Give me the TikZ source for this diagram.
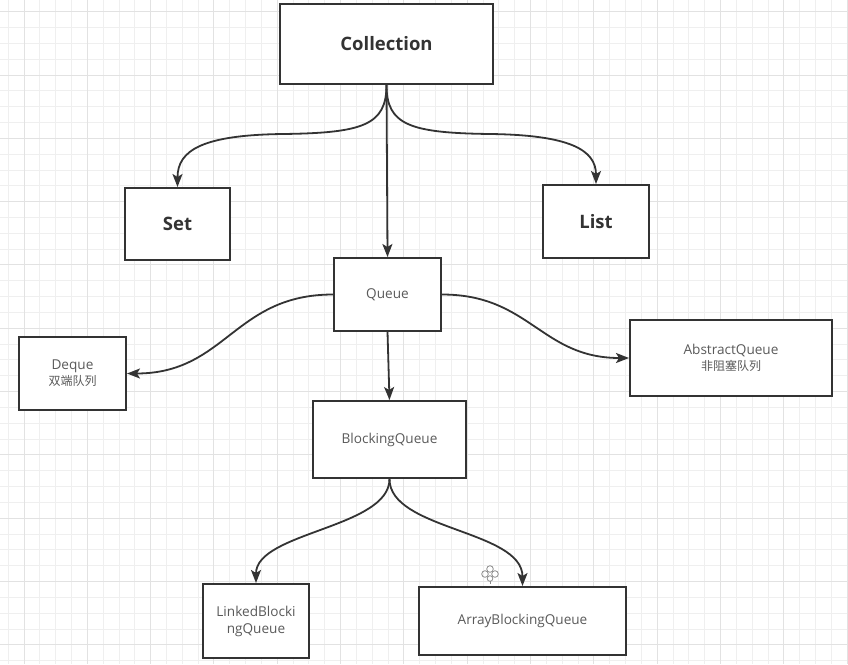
\documentclass[tikz,border=0pt]{standalone}
\usepackage{fontspec}
\setmainfont{Open Sans}
\newfontfamily\cjk{Noto Sans CJK SC}
\usetikzlibrary{arrows.meta}
\definecolor{ink}{HTML}{333333}
\definecolor{txt}{HTML}{5A5A5A}
\definecolor{gridminor}{HTML}{EFEFEF}
\definecolor{gridmajor}{HTML}{E2E2E2}
\definecolor{marker}{HTML}{8C8C8C}
\begin{document}
\begin{tikzpicture}[x=1pt,y=-1pt,
  box/.style={draw=ink, line width=2pt, fill=white, inner sep=0pt, align=center,
    text=txt, font=\fontsize{13.6}{17}\selectfont},
  titlebox/.style={box, text=ink, font=\fontsize{18.5}{22}\selectfont\bfseries},
  arr/.style={draw=ink, line width=1.8pt,
    -{Stealth[length=13pt,width=10pt,inset=3pt]}},
  minorline/.style={draw=gridminor, line width=1pt},
  majorline/.style={draw=gridmajor, line width=1pt}]
\useasboundingbox (0,0) rectangle (848,664);
\fill[white] (0,0) rectangle (848,664);

% background grid
\foreach \i in {0,...,53} {
  \pgfmathsetmacro\gx{8.2+15.83*\i}
  \draw[minorline] (\gx,0) -- (\gx,664);
}
\foreach \j in {0,...,41} {
  \pgfmathsetmacro\gy{11.7+15.83*\j}
  \draw[minorline] (0,\gy) -- (848,\gy);
}
\foreach \i in {0,...,13} {
  \pgfmathsetmacro\gx{24+63.32*\i}
  \draw[majorline] (\gx,0) -- (\gx,664);
}
\foreach \j in {0,...,10} {
  \pgfmathsetmacro\gy{11.7+63.32*\j}
  \draw[majorline] (0,\gy) -- (848,\gy);
}

% class and interface boxes
\node[titlebox, minimum width=213pt, minimum height=80pt] (coll) at (386.5,44) {Collection};
\node[titlebox, minimum width=105pt, minimum height=72pt] (set) at (177.5,224) {Set};
\node[titlebox, minimum width=106pt, minimum height=73pt] (list) at (596,221.5) {List};
\node[box, minimum width=107pt, minimum height=73pt] (queue) at (387.5,294.5) {Queue};
\node[box, minimum width=107pt, minimum height=73pt] (deque) at (72.5,373.5)
  {Deque\\[-1pt]{\cjk\fontsize{12}{17}\selectfont 双端队列}};
\node[box, minimum width=202pt, minimum height=76pt] (abst) at (731,358)
  {AbstractQueue\\[-1pt]{\cjk\fontsize{12}{17}\selectfont 非阻塞队列}};
\node[box, minimum width=153pt, minimum height=77pt] (bq) at (389.5,439.5) {BlockingQueue};
\node[box, minimum width=106pt, minimum height=74pt] (lbq) at (256,621)
  {LinkedBlocki\\ngQueue};
\node[box, minimum width=207pt, minimum height=68pt] (abq) at (522.5,621) {ArrayBlockingQueue};

% inheritance connectors
\draw[arr] (coll.south) .. controls (386.5,125) and (363,133) .. (283,134)
  .. controls (203,135) and (177.5,150) .. (set.north);
\draw[arr] (coll.south) .. controls (386.5,125) and (410,133) .. (490,134)
  .. controls (570,135) and (596,150) .. (list.north);
\draw[arr] (coll.south) -- (queue.north);
\draw[arr] (queue.west) .. controls (234,294.5) and (226,373.5) .. (deque.east);
\draw[arr] (queue.east) .. controls (530,294.5) and (541,358) .. (abst.west);
\draw[arr] (queue.south) -- (bq.north);
\draw[arr] (bq.south) .. controls (389.5,528) and (256,532) .. (lbq.north);
\draw[arr] (bq.south) .. controls (389.5,530) and (522.5,530) .. (abq.north);

% small clover marker beside the last connector
\begin{scope}[draw=marker, line width=0.8pt]
  \draw (490,569) circle (3.3);
  \draw (485,574) circle (3.3);
  \draw (495,574) circle (3.3);
  \draw (490,578.5) circle (2.8);
  \draw (490,581) -- (490,584);
\end{scope}
\end{tikzpicture}
\end{document}
